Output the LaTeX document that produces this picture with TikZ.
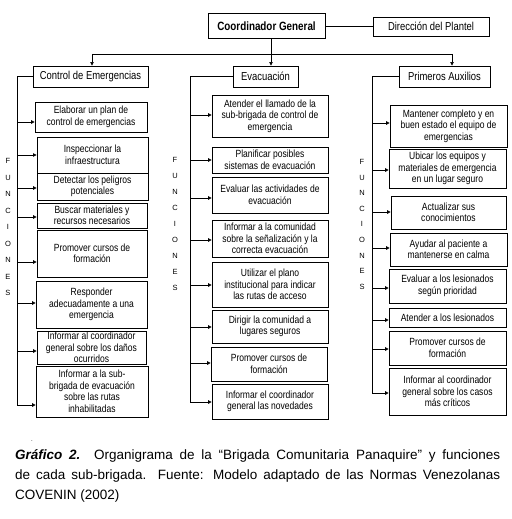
\documentclass[tikz,border=0pt]{standalone}
\usepackage{fontspec}
\setmainfont{Liberation Sans}
\newfontfamily\narrowfont[FakeStretch=0.82]{Liberation Sans}
\usetikzlibrary{arrows.meta}
\tikzset{
  fbox/.style={draw, line width=0.7pt, inner sep=0pt, align=center,
    font=\narrowfont\fontsize{10.4}{11.5}\selectfont},
  hbox/.style={draw, line width=0.9pt, inner sep=0pt, align=center,
    font=\narrowfont\fontsize{11.5}{13}\selectfont},
  ln/.style={line width=0.8pt},
  arr/.style={line width=0.7pt, -{Triangle[length=3.5pt,width=3.5pt]}},
  let/.style={font=\fontsize{7.5}{8}\selectfont, inner sep=0pt}
}
\newcommand\mybox[7][]{%
  \pgfmathsetmacro\bw{#5-#3}\pgfmathsetmacro\bh{#6-#4}%
  \node[fbox,#1,minimum width=\bw pt,minimum height=\bh pt] (#2) at ({(#3+#5)/2},{-(#4+#6)/2}) {#7};}
\newcommand\myhbox[7][]{%
  \pgfmathsetmacro\bw{#5-#3}\pgfmathsetmacro\bh{#6-#4}%
  \node[hbox,#1,minimum width=\bw pt,minimum height=\bh pt] (#2) at ({(#3+#5)/2},{-(#4+#6)/2}) {#7};}
\begin{document}
\begin{tikzpicture}[x=1pt,y=1pt]
\useasboundingbox (0,0) rectangle (511,-519);
% top
\myhbox[font=\narrowfont\bfseries\fontsize{12}{14}\selectfont, line width=1pt]{CG}{208}{14}{325}{39}{Coordinador General}
\myhbox[line width=0.7pt]{DP}{373}{17}{489}{36}{Dirección del Plantel}
\draw[ln] (CG) -- (DP);
\myhbox{CE}{33}{66}{148}{87}{Control de Emergencias}
\myhbox{EV}{233}{66}{298}{87}{Evacuación}
\myhbox{PA}{399}{66}{490}{87}{Primeros Auxilios}
\coordinate (j) at (271,-54);
\coordinate (jl) at (92,-54);
\coordinate (jr) at (452,-54);
\draw[ln] (j |- CG.south) -- (j);
\draw[ln] (jl) -- (jr);
\draw[arr] (jl) -- (jl |- CE.north);
\draw[arr] (j) -- (j |- EV.north);
\draw[arr] (jr) -- (jr |- PA.north);
% left column
\mybox{L1}{35}{102}{147}{132}{Elaborar un plan de\\control de emergencias}
\mybox[line width=0.9pt]{L2}{37}{137}{148}{173}{Inspeccionar la\\infraestructura}
\mybox{L3}{37}{173}{148}{200}{Detectar los peligros\\potenciales}
\mybox{L4}{37}{203}{147}{228}{Buscar materiales y\\recursos necesarios}
\mybox{L5}{37}{230}{147}{277}{Promover cursos de\\formación}
\mybox{L6}{36}{281}{147}{328}{Responder\\adecuadamente a una\\emergencia}
\mybox{L7}{37}{331}{146}{364}{Informar al coordinador\\general sobre los daños\\ocurridos}
\mybox{L8}{36}{366}{148}{417}{Informar a la sub-\\brigada de evacuación\\sobre las rutas\\inhabilitadas}
\coordinate (lb) at (17,-405);
\draw[ln] (CE.west) -| (lb);
\foreach \n/\y in {1/122,2/155,3/188,4/217,5/262,6/303,7/351,8/405}{
  \coordinate (la\n) at (17,-\y);
  \draw[arr] (la\n) -- (la\n -| L\n.west);
}
% middle column
\mybox{M1}{212}{95}{328}{137}{Atender el llamado de la\\sub-brigada de control de\\emergencia}
\mybox{M2}{212}{147}{328}{173}{Planificar posibles\\sistemas de evacuación}
\mybox{M3}{212}{177}{328}{213}{Evaluar las actividades de\\evacuación}
\mybox{M4}{212}{220}{328}{257}{Informar a la comunidad\\sobre la señalización y la\\correcta evacuación}
\mybox{M5}{212}{262}{328}{307}{Utilizar el plano\\institucional para indicar\\las rutas de acceso}
\mybox{M6}{212}{310}{328}{343}{Dirigir la comunidad a\\lugares seguros}
\mybox{M7}{211}{347}{327}{381}{Promover cursos de\\formación}
\mybox{M8}{212}{384}{328}{419}{Informar el coordinador\\general las novedades}
\coordinate (mb) at (190,-402);
\draw[ln] (EV.west) -| (mb);
\foreach \n/\y in {1/115,2/160,3/198,4/240,5/285,6/327,7/363,8/402}{
  \coordinate (ma\n) at (190,-\y);
  \draw[arr] (ma\n) -- (ma\n -| M\n.west);
}
% right column
\mybox{R1}{390}{105}{507}{147}{Mantener completo y en\\buen estado el equipo de\\emergencias}
\mybox{R2}{389}{149}{506}{188}{Ubicar los equipos y\\materiales de emergencia\\en un lugar seguro}
\mybox{R3}{391}{196}{506}{229}{Actualizar sus\\conocimientos}
\mybox{R4}{390}{233}{507}{266}{Ayudar al paciente a\\mantenerse en calma}
\mybox{R5}{389}{269}{506}{303}{Evaluar a los lesionados\\según prioridad}
\mybox{R6}{389}{308}{506}{327}{Atender a los lesionados}
\mybox{R7}{389}{331}{506}{365}{Promover cursos de\\formación}
\mybox{R8}{389}{368}{506}{415}{Informar al coordinador\\general sobre los casos\\más críticos}
\coordinate (rb) at (372,-393);
\draw[ln] (PA.west) -| (rb);
\foreach \n/\y in {1/123,2/170,3/212,4/248,5/288,6/320,7/349,8/393}{
  \coordinate (ra\n) at (372,-\y);
  \draw[arr] (ra\n) -- (ra\n -| R\n.west);
}
% FUNCIONES
\foreach \c [count=\i from 0] in {F,U,N,C,I,O,N,E,S}{
  \node[let] (fl\i) at (8,{-161-16.5*\i}) {\c};
  \node[let] (fm\i) at (175,{-160-16*\i}) {\c};
  \node[let] (fr\i) at (362,{-162-15.6*\i}) {\c};
}
% dot
\node[inner sep=0pt, font=\fontsize{6}{6}\selectfont] (dot) at (32,-441) {.};
% caption
\node[anchor=north west, inner sep=0pt, text width=485pt, align=justify,
  font=\fontsize{13.5}{20}\selectfont] (cap) at (15,-449)
  {\textbf{\textit{Gráfico 2.}}\ \ Organigrama de la “Brigada Comunitaria Panaquire” y funciones\linebreak de cada sub-brigada. Fuente: Modelo adaptado de las Normas Venezolanas\linebreak COVENIN (2002)};
\end{tikzpicture}
\end{document}
